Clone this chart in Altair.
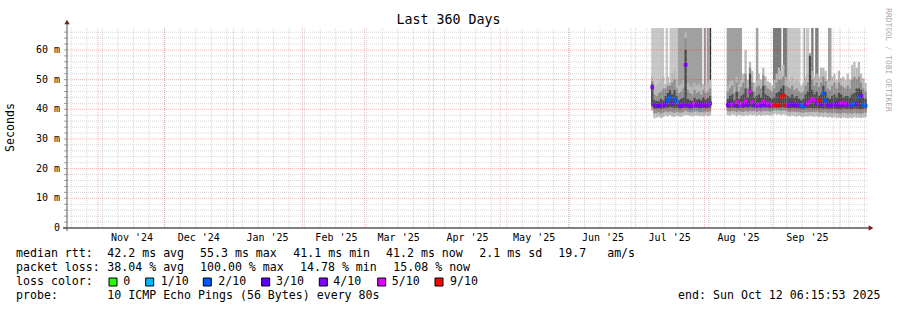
import altair as alt
import pandas as pd

MONO = "DejaVu Sans Mono"

# ---------------- data ----------------
t_start = "2024-10-18T01:06:00"
t_end = "2025-10-13T03:42:00"

seg1_start = "2025-07-08"
seg1_med = [47.5, 41.5, 41.3, 41.2, 41.6, 41.4, 41.8, 43.0, 44.0, 42.0, 43.5, 42.5, 41.3, 41.2, 41.6,
            55.0, 41.5, 41.3, 41.4, 42.0, 41.5, 41.6, 41.5, 41.8, 41.4, 41.5, 42.0]
seg1_loss = [4, 4, 4, 3, 4, 4, 4, 2, 2, 4, 2, 2, 4, 4, 4, 4, 4, 4, 4, 5, 4, 4, 4, 4, 4, 4, 4]
seg1_lo_out = [39.5, 37.0, 37.2, 37.5, 37.0, 37.4, 37.8, 37.6, 38.0, 37.5, 37.4, 37.8, 37.6, 37.5, 37.8,
               38.0, 38.0, 37.8, 37.6, 37.8, 37.9, 37.7, 37.8, 37.6, 37.9, 37.7, 37.9]
seg1_lo_mid = [40.5, 38.6, 38.8, 39.0, 38.6, 38.9, 39.2, 39.0, 39.3, 39.0, 38.8, 39.2, 39.0, 38.9, 39.0,
               39.5, 39.2, 39.0, 39.0, 39.2, 39.3, 39.0, 39.1, 39.0, 39.2, 39.1, 39.3]
seg1_lo_core = [41.2, 40.2, 40.3, 40.4, 40.2, 40.3, 40.5, 40.5, 40.8, 40.6, 40.4, 40.6, 40.3, 40.3, 40.5,
                40.5, 40.4, 40.3, 40.3, 40.5, 40.5, 40.4, 40.4, 40.5, 40.4, 40.4, 40.6]
seg1_hi_core = [48.5, 43.0, 42.8, 42.6, 43.5, 43.0, 44.5, 45.5, 46.5, 45.0, 46.5, 44.5, 43.0, 43.5, 44.0,
                60.0, 43.5, 43.0, 42.8, 44.0, 43.2, 43.5, 43.0, 44.0, 43.2, 43.8, 44.5]
seg1_hi_mid = [49.5, 45.0, 44.5, 45.5, 46.0, 47.0, 47.0, 48.0, 48.0, 49.0, 50.0, 47.0, 45.5, 46.0, 47.0,
               64.0, 46.5, 45.5, 45.0, 46.5, 45.5, 46.0, 45.0, 46.5, 45.5, 46.0, 47.0]
seg1_hi_out = [51.0, 47.5, 48.0, 49.0, 50.0, 51.0, 48.5, 51.0, 49.0, 52.0, 53.0, 50.0, 48.0, 48.5, 50.0,
               66.0, 49.0, 48.0, 47.5, 49.0, 48.0, 48.5, 47.5, 48.5, 48.0, 49.0, 50.0]

seg2_start = "2025-08-11"
seg2_med = [41.5, 42.0, 41.6, 41.4, 42.5, 41.3, 41.8, 41.5, 42.8, 41.6,
            46.0, 42.5, 41.5, 41.4, 41.8, 41.4, 42.6, 41.6, 42.0, 41.4,
            41.5, 41.4, 41.5, 41.6, 44.2, 44.6, 41.5, 41.6, 41.5, 42.0,
            41.4, 41.6, 41.5, 41.3, 41.0, 41.8, 42.0, 42.6, 43.5, 43.0,
            42.0, 43.0, 41.6, 45.5, 43.0, 41.5, 41.3, 41.6, 41.5, 42.0,
            41.4, 42.2, 41.5, 42.0, 41.6, 41.5, 41.4, 42.0, 41.8, 44.2,
            44.5, 41.5, 41.2]
seg2_loss = [4, 4, 5, 4, 5, 4, 5, 4, 5, 4,
             5, 5, 4, 4, 5, 4, 5, 4, 5, 4,
             5, 9, 9, 9, 9, 9, 9, 4, 4, 4,
             3, 4, 4, 2, 2, 4, 5, 5, 5, 5,
             4, 9, 4, 2, 2, 4, 4, 4, 4, 4,
             4, 5, 4, 5, 4, 4, 2, 2, 4, 2,
             4, 2, 2]
seg2_lo_out = [38.0, 37.8, 38.2, 38.0, 37.6, 38.1, 37.9, 37.7, 38.0, 37.8,
               38.2, 37.9, 38.0, 37.7, 38.1, 37.8, 38.0, 37.9, 38.1, 37.8,
               38.0, 38.5, 38.2, 38.4, 38.0, 38.3, 38.1, 37.8, 37.6, 37.9,
               37.7, 37.5, 37.8, 37.6, 37.4, 37.7, 37.5, 37.8, 37.6, 37.5,
               37.7, 37.4, 37.6, 37.3, 37.5, 37.2, 37.4, 37.1, 37.3, 37.0,
               37.2, 37.0, 37.3, 37.1, 37.0, 37.2, 37.0, 37.3, 37.1, 37.2,
               37.0, 37.2, 37.3]
seg2_lo_mid = [39.4, 39.2, 39.5, 39.3, 39.0, 39.4, 39.2, 39.1, 39.4, 39.2,
               39.6, 39.3, 39.4, 39.1, 39.5, 39.2, 39.4, 39.3, 39.5, 39.2,
               39.4, 39.8, 39.6, 39.7, 39.5, 39.7, 39.5, 39.2, 39.0, 39.3,
               39.1, 39.0, 39.2, 39.0, 38.8, 39.1, 39.0, 39.2, 39.1, 39.0,
               39.2, 38.9, 39.0, 38.8, 39.0, 38.7, 38.9, 38.6, 38.8, 38.6,
               38.7, 38.6, 38.8, 38.7, 38.5, 38.7, 38.5, 38.8, 38.6, 38.7,
               38.5, 38.7, 38.8]
seg2_lo_core = [40.5, 40.5, 40.6, 40.5, 40.4, 40.5, 40.6, 40.4, 40.6, 40.5,
                40.8, 40.6, 40.5, 40.4, 40.6, 40.5, 40.6, 40.5, 40.6, 40.4,
                40.5, 40.6, 40.5, 40.6, 40.6, 40.7, 40.5, 40.4, 40.3, 40.5,
                40.4, 40.3, 40.4, 40.3, 40.2, 40.4, 40.4, 40.5, 40.4, 40.3,
                40.4, 40.3, 40.4, 40.2, 40.3, 40.2, 40.3, 40.2, 40.3, 40.1,
                40.2, 40.2, 40.3, 40.2, 40.1, 40.2, 40.1, 40.3, 40.2, 40.2,
                40.1, 40.2, 40.3]
seg2_hi_core = [43.5, 44.5, 45.0, 43.0, 46.0, 43.5, 44.5, 45.0, 47.0, 44.0,
                52.0, 46.0, 44.0, 44.5, 45.0, 44.0, 48.0, 45.0, 44.5, 44.0,
                43.5, 44.0, 45.5, 46.0, 47.0, 48.0, 45.0, 44.5, 44.0, 45.0,
                44.0, 44.5, 43.5, 43.0, 43.5, 45.0, 46.0, 58.0, 46.5, 45.0,
                46.0, 44.5, 45.0, 48.0, 46.0, 44.0, 43.5, 44.5, 45.0, 44.0,
                45.5, 45.0, 44.0, 44.5, 44.5, 44.0, 45.0, 45.5, 47.0, 47.0,
                46.5, 44.0, 43.5]
seg2_hi_mid = [46.0, 47.0, 48.0, 45.5, 49.0, 46.0, 47.5, 49.0, 52.0, 47.0,
               54.0, 49.0, 46.0, 47.5, 48.0, 47.0, 51.5, 48.0, 47.0, 46.5,
               46.0, 47.0, 49.0, 50.0, 50.0, 51.0, 48.0, 47.5, 47.0, 48.0,
               46.5, 47.0, 46.0, 45.5, 46.0, 48.0, 49.0, 58.5, 50.0, 48.0,
               49.0, 47.5, 49.0, 51.0, 49.5, 47.0, 46.5, 48.0, 49.0, 47.0,
               49.0, 48.0, 47.5, 47.0, 48.0, 47.0, 50.0, 51.0, 50.0, 51.0,
               49.0, 47.0, 46.0]
seg2_hi_out = [48.0, 49.5, 50.0, 47.5, 51.0, 48.5, 50.0, 52.0, 60.0, 50.0,
               56.0, 53.0, 49.0, 50.0, 52.0, 50.0, 54.0, 51.0, 49.5, 49.0,
               48.0, 50.0, 52.0, 54.0, 53.0, 55.0, 51.0, 50.0, 49.5, 51.0,
               49.0, 50.0, 49.0, 48.0, 49.0, 51.0, 52.0, 59.0, 53.0, 51.0,
               52.0, 51.0, 54.0, 54.0, 53.0, 50.0, 49.5, 51.0, 52.0, 50.0,
               53.0, 50.5, 51.0, 50.0, 52.0, 50.0, 55.0, 56.0, 54.0, 56.0,
               52.0, 50.5, 49.0]

# smoke running off the top of the chart
block_start = ["2025-07-08T00:00", "2025-07-14T11:00", "2025-07-16T06:00", "2025-07-20T02:00",
               "2025-07-31T16:00", "2025-08-02T03:00", "2025-08-03T09:00",
               "2025-08-11T00:00", "2025-08-24T05:00", "2025-08-31T21:00", "2025-09-05T08:00",
               "2025-09-07T10:00", "2025-09-14T14:00", "2025-09-15T16:00", "2025-09-18T01:00",
               "2025-09-19T20:00", "2025-09-25T14:00"]
block_end = ["2025-07-13T19:00", "2025-07-15T14:00", "2025-07-20T02:00", "2025-07-31T00:00",
             "2025-08-01T20:00", "2025-08-03T09:00", "2025-08-04T00:00",
             "2025-08-17T21:00", "2025-08-25T06:00", "2025-09-04T15:00", "2025-09-07T10:00",
             "2025-09-13T06:00", "2025-09-15T08:00", "2025-09-17T04:00", "2025-09-19T02:00",
             "2025-09-21T08:00", "2025-09-27T04:00"]
block_shade = ["light", "light", "light", "medium", "medium", "medium", "black",
               "medium", "medium", "dark", "dark", "light", "medium", "light", "dark",
               "dark", "medium"]

loss_levels = [0, 1, 2, 3, 4, 5, 9]
loss_names = ["0", "1/10", "2/10", "3/10", "4/10", "5/10", "9/10"]
loss_colors = ["#26ff00", "#00b8ff", "#0059ff", "#5e00ff", "#7e00ff", "#dd00ff", "#ff0000"]

month_names = ["Nov '24", "Dec '24", "Jan '25", "Feb '25", "Mar '25", "Apr '25",
               "May '25", "Jun '25", "Jul '25", "Aug '25", "Sep '25"]
ytick_values = [0, 10, 20, 30, 40, 50, 60]
ytick_labels = ["0", "10 m", "20 m", "30 m", "40 m", "50 m", "60 m"]

legend_line1 = ["median rtt:", "42.2 ms avg", "55.3 ms max", "41.1 ms min", "41.2 ms now", "2.1 ms sd", "19.7   am/s"]
legend_line2 = ["packet loss:", "38.04 % avg", "100.00 % max", "14.78 % min", "15.08 % now"]
legend_line4 = ["probe:", "10 ICMP Echo Pings (56 Bytes) every 80s"]
end_text = "end: Sun Oct 12 06:15:53 2025"

# ---------------- helpers ----------------
def to_ms(t):
    t = pd.Timestamp(t)
    if t.tzinfo is None:
        t = t.tz_localize("UTC")
    return int(t.value // 10**6)


def seg_frame(start, med, loss, lo_out, lo_mid, lo_core, hi_core, hi_mid, hi_out):
    t0 = pd.Timestamp(start, tz="UTC")
    rows = []
    for i in range(len(med)):
        a = t0 + pd.Timedelta(days=i)
        rows.append(dict(t0=to_ms(a), t1=to_ms(a + pd.Timedelta(days=1)),
                         tc=to_ms(a + pd.Timedelta(hours=12)),
                         med=med[i], loss=loss_names[loss_levels.index(loss[i])],
                         lo_out=lo_out[i], lo_mid=lo_mid[i], lo_core=lo_core[i],
                         hi_core=hi_core[i], hi_mid=hi_mid[i], hi_out=hi_out[i]))
    return rows


smoke = pd.DataFrame(
    seg_frame(seg1_start, seg1_med, seg1_loss, seg1_lo_out, seg1_lo_mid, seg1_lo_core,
              seg1_hi_core, seg1_hi_mid, seg1_hi_out)
    + seg_frame(seg2_start, seg2_med, seg2_loss, seg2_lo_out, seg2_lo_mid, seg2_lo_core,
                seg2_hi_core, seg2_hi_mid, seg2_hi_out))

Y_MAX = 67.4
blocks = pd.DataFrame(dict(t0=[to_ms(t) for t in block_start], t1=[to_ms(t) for t in block_end],
                           shade=block_shade, lo=[42.0] * len(block_shade), hi=[Y_MAX] * len(block_shade)))

weeks = pd.DataFrame(dict(t=[to_ms(t) for t in pd.date_range("2024-10-20", "2025-10-12", freq="7D")]))
months = pd.DataFrame(dict(t=[to_ms(t) for t in pd.date_range("2024-11-01", "2025-10-01", freq="MS")]))
month_lab = pd.DataFrame(dict(
    t=[to_ms(t + pd.Timedelta(days=15, hours=8))
       for t in pd.date_range("2024-11-01", periods=len(month_names), freq="MS")],
    label=month_names))
minor_y = pd.DataFrame(dict(v=[v for v in range(2, 67, 2) if v % 10]))
major_y = pd.DataFrame(dict(v=[v for v in ytick_values if v > 0]))
all_y = pd.DataFrame(dict(v=list(range(0, 67, 2))))
ylab = pd.DataFrame(dict(v=ytick_values, label=ytick_labels))

x_scale = alt.Scale(type="utc", domain=[to_ms(t_start), to_ms(t_end)])
y_scale = alt.Scale(domain=[0, Y_MAX])


def X(f):
    return alt.X(f, type="temporal", scale=x_scale, axis=None)


def Y(f):
    return alt.Y(f, type="quantitative", scale=y_scale, axis=None)


# ---------------- data layers ----------------
block_layer = alt.Chart(blocks).mark_rect(clip=True).encode(
    x=X("t0"), x2="t1", y=Y("lo"), y2="hi",
    fill=alt.Fill("shade:N", scale=alt.Scale(domain=["light", "medium", "dark", "black"],
                                             range=["#c8c8c8", "#a0a0a0", "#7a7a7a", "#2e2e2e"]),
                  legend=None))

smoke_out = alt.Chart(smoke).mark_rect(color="#b9b9b9", clip=True).encode(
    x=X("t0"), x2="t1", y=Y("lo_out"), y2="hi_out")
smoke_mid = alt.Chart(smoke).mark_rect(color="#8c8c8c", clip=True).encode(
    x=X("t0"), x2="t1", y=Y("lo_mid"), y2="hi_mid")
smoke_core = alt.Chart(smoke).mark_rect(color="#4a4a4a", clip=True).encode(
    x=X("t0"), x2="t1", y=Y("lo_core"), y2="hi_core")

medians = alt.Chart(smoke).mark_square(size=14, opacity=1).encode(
    x=X("tc"), y=Y("med"),
    color=alt.Color("loss:N", scale=alt.Scale(domain=loss_names, range=loss_colors), legend=None))

# ---------------- grid & axes ----------------
week_grid = alt.Chart(weeks).mark_rule(color="#a8a8a8", opacity=0.45, strokeDash=[1, 1]).encode(x=X("t"))
month_grid = alt.Chart(months).mark_rule(color="#e00000", opacity=0.28, strokeDash=[1, 1]).encode(x=X("t"))
minor_grid = alt.Chart(minor_y).mark_rule(color="#a8a8a8", opacity=0.45, strokeDash=[1, 1]).encode(y=Y("v"))
major_grid = alt.Chart(major_y).mark_rule(color="#e00000", opacity=0.28, strokeDash=[1, 1]).encode(y=Y("v"))

y_ticks = alt.Chart(all_y).mark_tick(color="#777", thickness=1, size=3, xOffset=-1.5).encode(
    y=Y("v"), x=alt.value(0))
y_labels = alt.Chart(ylab).mark_text(align="right", baseline="middle", font=MONO, fontSize=10,
                                     color="#000").encode(y=Y("v"), x=alt.value(-7), text="label:N")
x_labels = alt.Chart(month_lab).mark_text(align="center", baseline="middle", font=MONO, fontSize=10,
                                          color="#000").encode(x=X("t"), y=alt.value(210), text="label:N")

one = pd.DataFrame(dict(k=[0]))
x_axis_line = alt.Chart(one).mark_rule(color="#000", strokeWidth=1).encode(
    x=alt.value(-4), x2=alt.value(803), y=alt.value(200))
y_axis_line = alt.Chart(one).mark_rule(color="#555", strokeWidth=1).encode(
    x=alt.value(0), y=alt.value(-6), y2=alt.value(203))
arrow_up = alt.Chart(one).mark_point(shape="triangle-up", filled=True, size=28, color="#7b1c1c", opacity=1).encode(
    x=alt.value(0), y=alt.value(-6))
arrow_right = alt.Chart(one).mark_point(shape="triangle-right", filled=True, size=28, color="#7b1c1c", opacity=1).encode(
    x=alt.value(804), y=alt.value(200))

# ---------------- texts (absolute page positions) ----------------
OX, OY = 67, 28
NB = "\u00a0"


def txt(s, xa, ya, align="left", size=11.6, color="#000", angle=0):
    return alt.Chart(one).mark_text(align=align, baseline="middle", font=MONO, fontSize=size,
                                    color=color, angle=angle).encode(
        x=alt.value(xa - OX), y=alt.value(ya - OY), text=alt.value(s.replace(" ", NB)))


def box(xa, ya, w, h, col):
    return alt.Chart(one).mark_rect(color=col, stroke="#000", strokeWidth=1).encode(
        x=alt.value(xa - OX), x2=alt.value(xa - OX + w), y=alt.value(ya - OY), y2=alt.value(ya - OY + h))


texts = [txt("Last 360 Days", 448.5, 19.5, align="center", size=13.3),
         txt("Seconds", 11, 127.5, align="center", angle=270),
         txt("RRDTOOL / TOBI OETIKER", 887.5, 60, align="center", size=7.8, color="#a8a8a8", angle=90)]

line1_x = [16, 107.3, 200, 293.3, 386, 479.3, 558.3]
for s, xa in zip(legend_line1, line1_x):
    texts.append(txt(s, xa, 254.3))
line2_x = [16, 107.3, 200, 300, 393.3]
for s, xa in zip(legend_line2, line2_x):
    texts.append(txt(s, xa, 268.3))
texts.append(txt("loss color:", 16, 282.3))
sq_x = [109, 145.7, 203.3, 261.7, 319.3, 377.7, 435]
lab_x = [123.3, 160.7, 218.3, 276, 333.3, 391.7, 450]
for name, col, sx, lx in zip(loss_names, loss_colors, sq_x, lab_x):
    texts.append(box(sx, 278, 8, 8, col))
    texts.append(txt(name, lx, 282.3))
line4_x = [16, 107.3]
for s, xa in zip(legend_line4, line4_x):
    texts.append(txt(s, xa, 296))
texts.append(txt(end_text, 880.5, 296, align="right"))

chart = alt.layer(
    block_layer, smoke_out, smoke_mid, smoke_core, medians,
    week_grid, month_grid, minor_grid, major_grid,
    y_ticks, y_labels, x_labels,
    x_axis_line, y_axis_line, arrow_up, arrow_right,
    *texts
).properties(
    width=800, height=200,
    autosize=alt.AutoSizeParams(type="none"),
    padding={"left": OX, "top": OY, "right": 30, "bottom": 82},
    background="white",
).configure_view(stroke=None)

chart.save("out.html", embed_options={"renderer": "svg", "actions": False})
